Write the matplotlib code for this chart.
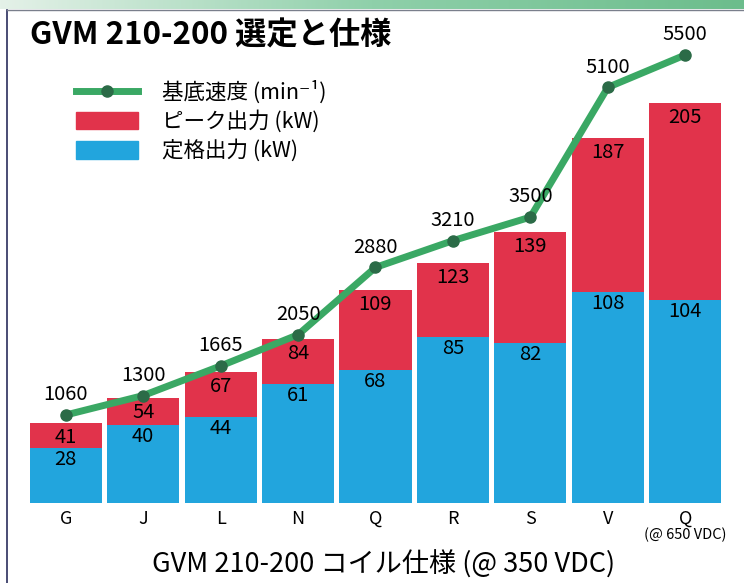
import numpy as np
import matplotlib
matplotlib.use("Agg")
import matplotlib.pyplot as plt
from matplotlib.lines import Line2D
from matplotlib.patches import Patch
from matplotlib.colors import LinearSegmentedColormap

plt.rcParams['font.family'] = ['Noto Sans CJK JP', 'DejaVu Sans']

# データ
categories = ['G', 'J', 'L', 'N', 'Q', 'R', 'S', 'V', 'Q']
rated_kw = [28, 40, 44, 61, 68, 85, 82, 108, 104]
peak_kw = [41, 54, 67, 84, 109, 123, 139, 187, 205]
base_speed = [1060, 1300, 1665, 2050, 2880, 3210, 3500, 5100, 5500]

blue = '#22a5dd'
red = '#e1334b'
green = '#3aa864'
dot = '#2b6b47'

W, H = 744, 583
fig = plt.figure(figsize=(W / 100, H / 100), dpi=100)

# 上部の緑の帯と枠線
band = fig.add_axes([0, 1 - 9 / H, 1, 9 / H])
grad = np.linspace(0, 1, 256).reshape(1, -1)
cmap = LinearSegmentedColormap.from_list('g', ['#e4f1e8', '#8fd0aa', '#6cbd8c'])
band.imshow(grad, aspect='auto', cmap=cmap, extent=[0, 1, 0, 1])
band.axis('off')
fig.add_artist(Line2D([7 / W, 7 / W], [0, 1 - 10 / H], color='#2a2d5c', lw=1.2))
fig.add_artist(Line2D([7 / W, 1], [1 - 10 / H, 1 - 10 / H], color='#7a7f8c', lw=1.0))

ax = fig.add_axes([27 / W, 80 / H, 697 / W, 463 / H])
x = np.arange(len(categories))
bw = 0.93
ax.bar(x, rated_kw, width=bw, color=blue)
ax.bar(x, np.array(peak_kw) - np.array(rated_kw), bottom=rated_kw, width=bw, color=red)
ax.set_xlim(-0.5, len(categories) - 0.5)
ax.set_ylim(0, 463 / 1.951)

for i in range(len(categories)):
    ax.annotate(str(peak_kw[i]), (x[i], peak_kw[i]), xytext=(0, -10.5),
                textcoords='offset points', ha='center', va='center', fontsize=14.5)
    ax.annotate(str(rated_kw[i]), (x[i], rated_kw[i]), xytext=(0, -8),
                textcoords='offset points', ha='center', va='center', fontsize=14.5)

ax.set_xticks(x)
ax.set_xticklabels(categories, fontsize=13)
ax.tick_params(axis='x', length=0, pad=5)
ax.set_yticks([])
for s in ax.spines.values():
    s.set_visible(False)
ax.set_xlabel('GVM 210-200 コイル仕様 (@ 350 VDC)', fontsize=19.5)
ax.xaxis.set_label_coords((384 - 27) / 697, -62 / 463)
ax.xaxis.label.set_va('center')
ax.text(x[-1], -32 / 463, '(@ 650 VDC)', transform=ax.get_xaxis_transform(),
        ha='center', va='center', fontsize=10.5)

ax2 = ax.twinx()
ax2.plot(x, base_speed, color=green, lw=5, marker='o', markersize=8,
         markerfacecolor=dot, markeredgecolor=dot, solid_capstyle='butt')
ax2.set_ylim(-25, -25 + 463 / 0.0811)
ax2.set_yticks([])
for s in ax2.spines.values():
    s.set_visible(False)
for i in range(len(categories)):
    ax2.annotate(str(base_speed[i]), (x[i], base_speed[i]), xytext=(0, 14.5),
                 textcoords='offset points', ha='center', va='center', fontsize=14.5)

handles = [
    Line2D([], [], color=green, lw=5, marker='o', markersize=8,
           markerfacecolor=dot, markeredgecolor=dot),
    Patch(color=red),
    Patch(color=blue),
]
labels = ['基底速度 (min⁻¹)', 'ピーク出力 (kW)', '定格出力 (kW)']
ax2.legend(handles, labels, loc='upper left', bbox_to_anchor=(40 / 697, 1 - 32 / 463),
           frameon=False, fontsize=15.5, handlelength=2.9, handleheight=0.88,
           labelspacing=0.3, handletextpad=1.1, borderaxespad=0)

fig.text(30 / W, 1 - 35 / H, 'GVM 210-200 選定と仕様', fontsize=22.5,
         fontweight='bold', ha='left', va='center')

fig.savefig('out.png', dpi=100)
